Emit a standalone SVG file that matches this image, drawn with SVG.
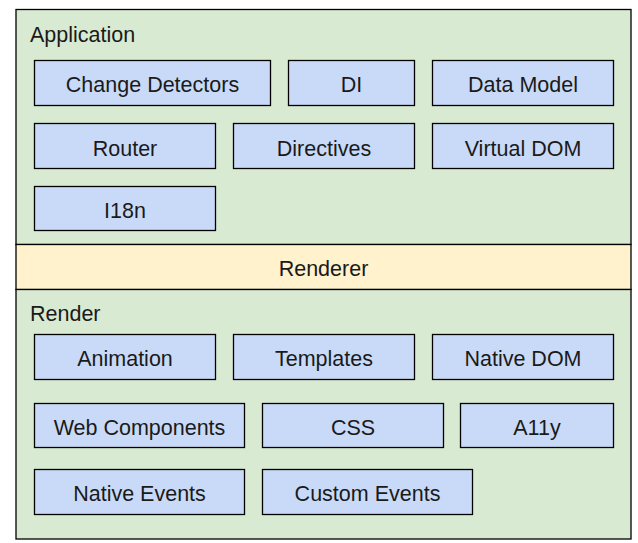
<svg xmlns="http://www.w3.org/2000/svg" width="638" height="543" viewBox="0 0 638 543">
<style>
.lay{fill:#d9ead3;stroke:#000;stroke-width:1.3}
.band{fill:#fff2cc;stroke:#000;stroke-width:1.3}
.box{fill:#c9daf8;stroke:#000;stroke-width:1.3}
text{font-family:"Liberation Sans",Arial,sans-serif;font-size:21.5px;fill:#1a1a1a}
.c{text-anchor:middle}
</style>
<rect width="638" height="543" fill="#fff"/>
<g id="application">
<rect class="lay" x="16" y="9.5" width="615" height="235"/>
<text x="30" y="41.5">Application</text>
</g>
<g id="renderer">
<rect class="band" x="16" y="244.5" width="615" height="45"/>
<text class="c" x="323.5" y="276">Renderer</text>
</g>
<g id="render">
<rect class="lay" x="16" y="289.5" width="615" height="249.5"/>
<text x="30" y="321">Render</text>
</g>
<g id="change-detectors"><rect class="box" x="34.5" y="60.5" width="236" height="45"/><text class="c" x="152.5" y="92">Change Detectors</text></g>
<g id="di"><rect class="box" x="288.5" y="60.5" width="126" height="45"/><text class="c" x="351.5" y="92">DI</text></g>
<g id="data-model"><rect class="box" x="432.5" y="60.5" width="181" height="45"/><text class="c" x="523" y="92">Data Model</text></g>
<g id="router"><rect class="box" x="34.5" y="123.5" width="181" height="45"/><text class="c" x="125" y="155.5">Router</text></g>
<g id="directives"><rect class="box" x="233.5" y="123.5" width="181" height="45"/><text class="c" x="324" y="155.5">Directives</text></g>
<g id="virtual-dom"><rect class="box" x="432.5" y="123.5" width="181" height="45"/><text class="c" x="523" y="155.5">Virtual DOM</text></g>
<g id="i18n"><rect class="box" x="34.5" y="186.5" width="181" height="44"/><text class="c" x="125" y="218">I18n</text></g>
<g id="animation"><rect class="box" x="34.5" y="334.5" width="181" height="45"/><text class="c" x="125" y="366">Animation</text></g>
<g id="templates"><rect class="box" x="233.5" y="334.5" width="181" height="45"/><text class="c" x="324" y="366">Templates</text></g>
<g id="native-dom"><rect class="box" x="432.5" y="334.5" width="181" height="45"/><text class="c" x="523" y="366">Native DOM</text></g>
<g id="web-components"><rect class="box" x="34.5" y="403.5" width="210" height="44"/><text class="c" x="139.5" y="435">Web Components</text></g>
<g id="css"><rect class="box" x="262.5" y="403.5" width="181" height="44"/><text class="c" x="353" y="435">CSS</text></g>
<g id="a11y"><rect class="box" x="460.5" y="403.5" width="153" height="44"/><text class="c" x="537" y="435">A11y</text></g>
<g id="native-events"><rect class="box" x="34.5" y="469.5" width="210" height="45"/><text class="c" x="139.5" y="501">Native Events</text></g>
<g id="custom-events"><rect class="box" x="262.5" y="469.5" width="210" height="45"/><text class="c" x="367.5" y="501">Custom Events</text></g>
<g id="connectors"></g>
</svg>
